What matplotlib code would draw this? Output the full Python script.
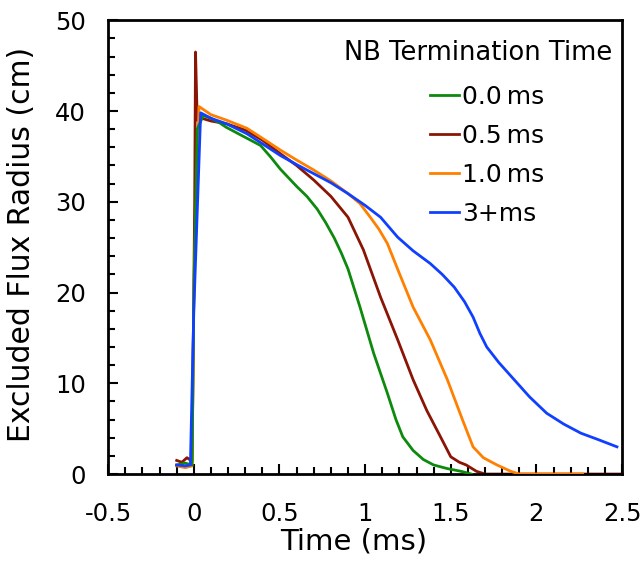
import matplotlib.pyplot as plt
from matplotlib.ticker import MultipleLocator

# NB termination 0.0 ms
t_green = [-0.10, -0.05, -0.01, 0.00, 0.02, 0.055, 0.10, 0.15, 0.19, 0.25, 0.33, 0.39,
           0.45, 0.505, 0.60, 0.66, 0.72, 0.77, 0.82, 0.86, 0.90, 0.97, 1.05, 1.13, 1.18,
           1.22, 1.28, 1.34, 1.40, 1.48, 1.56, 1.62]
r_green = [1.0, 1.2, 1.0, 20.0, 38.0, 39.5, 39.2, 38.7, 38.2, 37.6, 36.8, 36.2,
           34.9, 33.6, 31.7, 30.6, 29.2, 27.7, 26.0, 24.4, 22.6, 18.4, 13.3, 8.9, 6.0,
           4.1, 2.6, 1.6, 1.0, 0.6, 0.3, 0.0]

# NB termination 0.5 ms
t_red = [-0.10, -0.07, -0.04, -0.01, 0.005, 0.01, 0.02, 0.03, 0.10, 0.19, 0.30, 0.40,
         0.505, 0.60, 0.70, 0.80, 0.90, 0.99, 1.09, 1.19, 1.28, 1.36, 1.44, 1.50,
         1.55, 1.59, 1.65, 1.70, 2.50]
r_red = [1.5, 1.3, 1.8, 1.4, 30.0, 46.5, 39.0, 39.3, 38.9, 38.6, 37.9, 36.8,
         35.3, 34.0, 32.4, 30.6, 28.3, 24.7, 19.5, 14.8, 10.4, 7.0, 4.1, 1.9,
         1.3, 1.0, 0.3, 0.0, 0.0]

# NB termination 1.0 ms
t_orange = [-0.10, -0.05, -0.01, 0.00, 0.03, 0.10, 0.19, 0.31, 0.40, 0.505, 0.60, 0.70,
            0.80, 0.90, 0.97, 1.03, 1.08, 1.13, 1.20, 1.28, 1.38, 1.48, 1.57, 1.63,
            1.69, 1.77, 1.85, 1.90, 2.27]
r_orange = [0.9, 0.7, 0.9, 20.0, 40.5, 39.6, 39.0, 38.1, 37.0, 35.7, 34.6, 33.5,
            32.3, 30.9, 29.8, 28.3, 27.0, 25.4, 22.1, 18.4, 14.8, 10.4, 5.9, 3.0,
            1.8, 1.0, 0.3, 0.0, 0.0]

# NB termination 3+ ms
t_blue = [-0.10, -0.05, -0.02, 0.00, 0.04, 0.10, 0.19, 0.31, 0.40, 0.505, 0.60, 0.70,
          0.80, 0.90, 1.00, 1.09, 1.19, 1.28, 1.38, 1.45, 1.52, 1.58, 1.63, 1.67,
          1.71, 1.78, 1.87, 1.96, 2.06, 2.16, 2.26, 2.36, 2.47]
r_blue = [1.0, 0.9, 1.0, 18.0, 39.8, 39.2, 38.6, 37.5, 36.4, 35.1, 34.1, 33.1,
          32.1, 30.9, 29.6, 28.3, 26.1, 24.6, 23.2, 22.0, 20.6, 19.0, 17.3, 15.5,
          14.0, 12.3, 10.4, 8.5, 6.7, 5.5, 4.5, 3.8, 3.0]

plt.rcParams['font.family'] = 'DejaVu Sans'

fig, ax = plt.subplots(figsize=(6.4, 5.63), dpi=100)
fig.subplots_adjust(left=0.169, right=0.972, top=0.964, bottom=0.158)

lw = 2.0
ax.plot(t_red, r_red, color='#8b1505', lw=lw, label='0.5\u2009ms', zorder=2)
ax.plot(t_orange, r_orange, color='#ff8000', lw=lw, label='1.0\u2009ms', zorder=3)
ax.plot(t_green, r_green, color='#0d8a0d', lw=lw, label='0.0\u2009ms', zorder=4)
ax.plot(t_blue, r_blue, color='#1040ff', lw=lw, label='3+ms', zorder=5)

ax.set_xlim(-0.5, 2.5)
ax.set_ylim(0, 50)
ax.xaxis.set_minor_locator(MultipleLocator(0.1))
ax.yaxis.set_major_locator(MultipleLocator(10))
ax.yaxis.set_minor_locator(MultipleLocator(2))
ax.set_xticks([-0.5, 0, 0.5, 1, 1.5, 2, 2.5])
ax.set_xticklabels(['-0.5', '0', '0.5', '1', '1.5', '2', '2.5'])
ax.tick_params(which='both', direction='in', width=1.5, labelsize=17.5)
ax.tick_params(axis='x', which='major', pad=20)
ax.tick_params(axis='y', which='major', pad=16)
ax.tick_params(which='major', length=7)
ax.tick_params(which='minor', length=5)
for s in ax.spines.values():
    s.set_linewidth(2)

ax.set_xlabel('Time (ms)', fontsize=21)
ax.set_ylabel('Excluded Flux Radius (cm)', fontsize=21.5)
ax.xaxis.set_label_coords(0.477, -0.117)
ax.yaxis.set_label_coords(-0.14, 0.5055)

# legend title drawn as text, entries as a frameless legend below it
ax.text(0.9805, 0.912, 'NB Termination Time', transform=ax.transAxes,
        ha='right', va='baseline', fontsize=18.5)
h, l = ax.get_legend_handles_labels()
order = [2, 0, 1, 3]
ax.legend([h[i] for i in order], [l[i] for i in order],
          loc='upper left', bbox_to_anchor=(0.6265, 0.858), frameon=False,
          fontsize=18, handlelength=1.16, handletextpad=0.12, labelspacing=0.6,
          borderpad=0, borderaxespad=0)

plt.savefig('out.png', dpi=100)
